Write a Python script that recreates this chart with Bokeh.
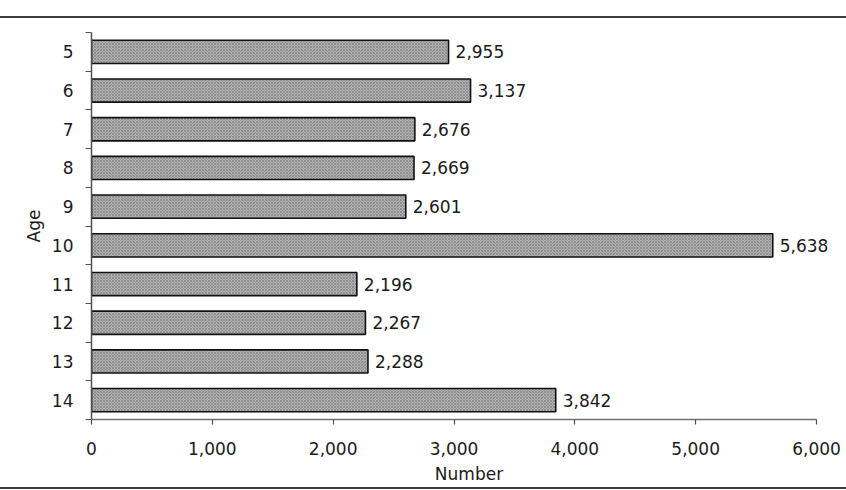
from bokeh.plotting import figure
from bokeh.models import Range1d, FixedTicker, NumeralTickFormatter, ColumnDataSource, LabelSet, Div
from bokeh.core.properties import value
from bokeh.layouts import column
from bokeh.embed import file_html
from bokeh.resources import INLINE

ages = ["5", "6", "7", "8", "9", "10", "11", "12", "13", "14"]
counts = [2955, 3137, 2676, 2669, 2601, 5638, 2196, 2267, 2288, 3842]
count_labels = ["2,955", "3,137", "2,676", "2,669", "2,601", "5,638", "2,196", "2,267", "2,288", "3,842"]
x_ticks = [0, 1000, 2000, 3000, 4000, 5000, 6000]

FONT = "DejaVu Sans"
TXT = "#1a1a1a"
n = len(ages)
ypos = list(range(n))

# pixel layout: axis 0 at x=91, 6000 at x=816; frame extends to canvas edge (846)
W = 846
X0_PX, X6K_PX = 91, 816
x_max = x_ticks[-1]
x_end = x_max * (W - X0_PX) / (X6K_PX - X0_PX)

src = ColumnDataSource(dict(y=ypos, count=counts, label=count_labels))

p = figure(width=W, height=469, output_backend="svg", toolbar_location=None,
           x_range=Range1d(0, x_end), y_range=Range1d(n - 0.5, -0.5),
           min_border_left=X0_PX, min_border_right=0, min_border_top=14, min_border_bottom=68)
p.outline_line_color = None
p.xgrid.grid_line_color = None
p.ygrid.grid_line_color = None
p.background_fill_color = "white"
p.border_fill_color = "white"

p.hbar(y="y", left=0, right="count", height=0.6, source=src,
       fill_color="#b0b0b0", line_color="#111111", line_width=1.6,
       hatch_pattern="x", hatch_color="#7a7a7a", hatch_scale=3, hatch_weight=0.6)

p.add_layout(LabelSet(x="count", y="y", text="label", source=src, x_offset=7,
                      text_baseline="middle", text_align="left", text_font=value(FONT),
                      text_font_size=value("17px"), text_color=TXT))

# x axis
xa = p.xaxis[0]
xa.bounds = (0, x_max)
xa.ticker = FixedTicker(ticks=x_ticks)
xa.formatter = NumeralTickFormatter(format="0,0")
xa.major_tick_out = 5
xa.major_tick_in = 0
xa.minor_tick_line_color = None
xa.axis_line_color = "#707070"
xa.axis_line_width = 1.5
xa.major_tick_line_color = "#505050"
xa.major_tick_line_width = 1.2
xa.major_label_text_font = FONT
xa.major_label_text_font_size = "17px"
xa.major_label_text_color = TXT
xa.major_label_standoff = 17
xa.axis_label = "Number"
xa.axis_label_text_font = FONT
xa.axis_label_text_font_size = "17px"
xa.axis_label_text_font_style = "normal"
xa.axis_label_text_color = TXT
xa.axis_label_standoff = 6

# y axis
ya = p.yaxis[0]
ya.ticker = FixedTicker(ticks=ypos, minor_ticks=[i - 0.5 for i in range(n + 1)])
ya.major_label_overrides = {i: a for i, a in zip(ypos, ages)}
ya.major_tick_line_color = None
ya.major_tick_out = 6
ya.major_tick_in = 0
ya.minor_tick_out = 6
ya.minor_tick_in = 0
ya.minor_tick_line_color = "#505050"
ya.minor_tick_line_width = 1.2
ya.axis_line_color = "#505050"
ya.axis_line_width = 1.5
ya.major_label_text_font = FONT
ya.major_label_text_font_size = "17px"
ya.major_label_text_color = TXT
ya.major_label_standoff = 12
ya.axis_label = "Age"
ya.axis_label_text_font = FONT
ya.axis_label_text_font_size = "17px"
ya.axis_label_text_font_style = "normal"
ya.axis_label_text_color = TXT
ya.axis_label_standoff = 5

top_gap = Div(width=W, height=16, margin=(0, 0, 0, 0), styles={"background-color": "white"})
top_rule = Div(width=W, height=2, margin=(0, 0, 0, 0), styles={"background-color": "#3c3c3c"})
bottom_rule = Div(width=W, height=2, margin=(0, 0, 0, 0), styles={"background-color": "#3c3c3c"})

layout = column(top_gap, top_rule, p, bottom_rule, spacing=0)

open("out.html", "w").write(file_html(layout, INLINE))
